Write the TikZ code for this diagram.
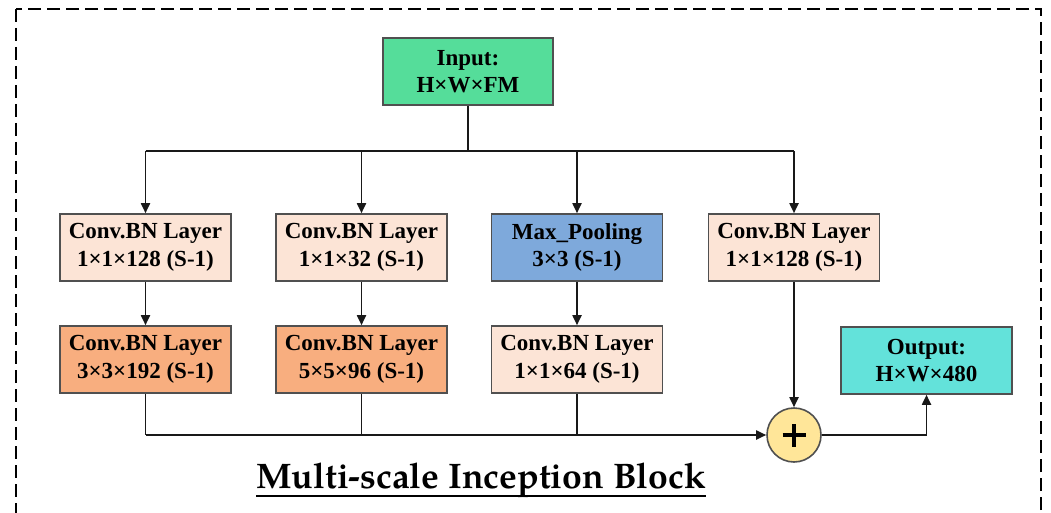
\documentclass[tikz,border=0pt]{standalone}
\usepackage{fontspec}
\setmainfont{Liberation Serif}
\newfontfamily\titlefont{TeX Gyre Pagella}
\usetikzlibrary{arrows.meta}

\definecolor{ingreen}{HTML}{55DD9A}
\definecolor{convlight}{HTML}{FCE4D6}
\definecolor{convdark}{HTML}{F8AE7F}
\definecolor{poolblue}{HTML}{7EA9DB}
\definecolor{outcyan}{HTML}{63E2DA}
\definecolor{sumgold}{HTML}{FFE699}
\definecolor{edgegray}{HTML}{505050}

\begin{document}
\begin{tikzpicture}[x=1pt,y=-1pt,
  block/.style={draw=edgegray, line width=1.6pt, minimum width=171pt,
    minimum height=67pt, inner sep=0pt, align=center,
    font=\bfseries\fontsize{23}{27.5}\selectfont},
  link/.style={line width=1.8pt, draw=black!90},
  tip/.style={-{Triangle[length=10pt,width=9pt]}}]

\useasboundingbox (0,0) rectangle (1051,513);
\fill[white] (0,0) rectangle (1051,513);
\begin{scope}
\clip (0,0) rectangle (1051,513);
\draw[dash pattern=on 13pt off 6pt, line width=2pt] (16,9) rectangle (1041,545);
\end{scope}

% blocks
\node[block, fill=ingreen, minimum width=170pt] (in) at (468,71.5) {Input:\\H×W×FM};

\node[block, fill=convlight] (c1a) at (145.5,247.5) {Conv.BN Layer\\1×1×128 (S-1)};
\node[block, fill=convlight] (c2a) at (361.5,247.5) {Conv.BN Layer\\1×1×32 (S-1)};
\node[block, fill=poolblue]  (p3)  at (577,247.5)   {Max\_Pooling\\3×3 (S-1)};
\node[block, fill=convlight] (c4a) at (794,247.5)   {Conv.BN Layer\\1×1×128 (S-1)};

\node[block, fill=convdark]  (c1b) at (145.5,359.5) {Conv.BN Layer\\3×3×192 (S-1)};
\node[block, fill=convdark]  (c2b) at (361.5,359.5) {Conv.BN Layer\\5×5×96 (S-1)};
\node[block, fill=convlight] (c3b) at (577,359.5)   {Conv.BN Layer\\1×1×64 (S-1)};

\node[block, fill=outcyan] (out) at (926.5,360.5) {Output:\\H×W×480};

\node[circle, draw=edgegray, line width=1.6pt, fill=sumgold, minimum size=54pt, inner sep=0pt] (sum) at (794,435) {};
\draw[line width=3.2pt] ([xshift=-11.5pt]sum.center) -- ([xshift=11.5pt]sum.center);
\draw[line width=3.2pt] ([yshift=-11.5pt]sum.center) -- ([yshift=11.5pt]sum.center);

% split bus from the input
\coordinate (split) at (468,151);
\draw[link] (in.south) -- (split);
\draw[link] (c1a.north |- split) -- (c4a.north |- split);
\foreach \n in {c1a,c2a,p3,c4a}
  \draw[link,tip] (\n.north |- split) -- (\n.north);

% branch steps
\draw[link,tip] (c1a.south) -- (c1b.north);
\draw[link,tip] (c2a.south) -- (c2b.north);
\draw[link,tip] (p3.south) -- (c3b.north);
\draw[link,tip] (c4a.south) -- (sum.north);

% merge bus into the sum
\foreach \n in {c1b,c2b,c3b}
  \draw[link] (\n.south) -- (\n.south |- sum.west);
\draw[link,tip] (c1b.south |- sum.west) -- (sum.west);
\draw[link,tip] (sum.east) -| (out.south);

% caption
\node[font=\titlefont\bfseries\fontsize{35.5}{40}\selectfont, anchor=base, inner sep=0pt] (title) at (481,488) {Multi-scale Inception Block};
\draw[line width=2pt] ([yshift=-7.5pt]title.base west) -- ([yshift=-7.5pt]title.base east);
\end{tikzpicture}
\end{document}
